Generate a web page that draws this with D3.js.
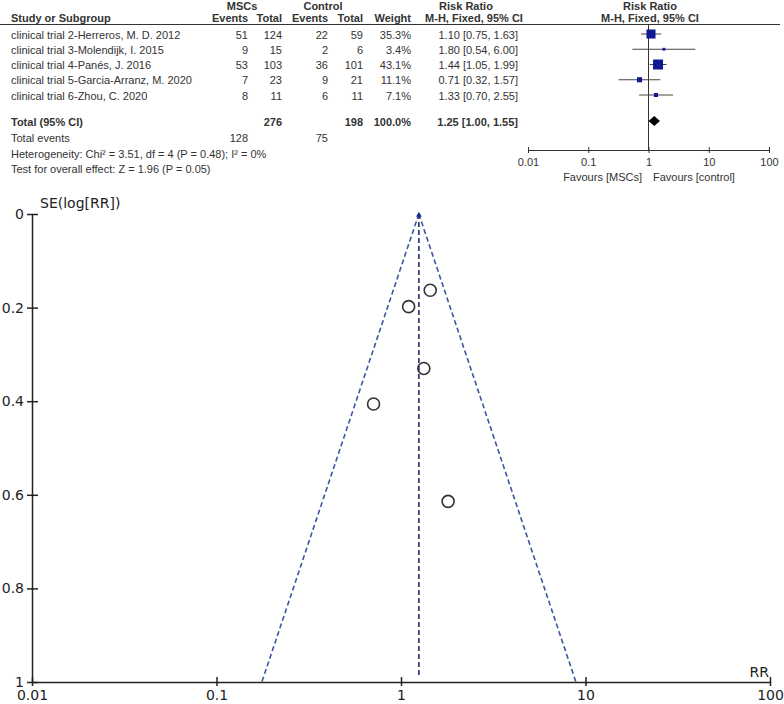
<!DOCTYPE html>
<html lang="en">
<head>
    <meta charset="UTF-8">
    <title>Forest and Funnel Plot</title>
    <script src="https://cdn.jsdelivr.net/npm/d3@7"></script>
    <style>
        body { margin: 0; background: #fff; }
        svg { display: block; }
    </style>
</head>
<body>
    <div id="chart"></div>
    <script>
        // study data
        const studies = [
            "clinical trial 2-Herreros, M. D. 2012",
            "clinical trial 3-Molendijk, I. 2015",
            "clinical trial 4-Panés, J. 2016",
            "clinical trial 5-Garcia-Arranz, M. 2020",
            "clinical trial 6-Zhou, C. 2020"
        ];
        const mscEvents = [51, 9, 53, 7, 8];
        const mscTotal = [124, 15, 103, 23, 11];
        const ctrlEvents = [22, 2, 36, 9, 6];
        const ctrlTotal = [59, 6, 101, 21, 11];
        const weights = [35.3, 3.4, 43.1, 11.1, 7.1];
        const rr = [1.10, 1.80, 1.44, 0.71, 1.33];
        const ciLow = [0.75, 0.54, 1.05, 0.32, 0.70];
        const ciHigh = [1.63, 6.00, 1.99, 1.57, 2.55];
        const seLogRR = [0.198, 0.614, 0.163, 0.406, 0.330];

        const pooled = { rr: 1.25, low: 1.00, high: 1.55, mscTotal: 276, ctrlTotal: 198, mscEvents: 128, ctrlEvents: 75 };
        const heterogeneity = "Heterogeneity: Chi² = 3.51, df = 4 (P = 0.48); I² = 0%";
        const overallTest = "Test for overall effect: Z = 1.96 (P = 0.05)";

        const forestTicks = [0.01, 0.1, 1, 10, 100];
        const forestTickLabels = ["0.01", "0.1", "1", "10", "100"];
        const funnelXTicks = [0.01, 0.1, 1, 10, 100];
        const funnelXLabels = ["0.01", "0.1", "1", "10", "100"];
        const funnelYTicks = [0, 0.2, 0.4, 0.6, 0.8, 1];
        const funnelYLabels = ["0", "0.2", "0.4", "0.6", "0.8", "1"];

        const W = 784, H = 704;
        const svg = d3.select("#chart").append("svg")
            .attr("width", W).attr("height", H)
            .style("font-family", "'Liberation Sans', Arial, sans-serif");

        // ---------- forest plot table ----------
        const tf = svg.append("g").attr("font-size", 11).attr("fill", "#333");
        const rowY = d3.scalePoint().domain(studies).range([34, 95]);

        const bold = (sel) => sel.attr("font-weight", "bold");
        function txt(x, y, s, anchor) {
            return tf.append("text").attr("x", x).attr("y", y)
                .attr("text-anchor", anchor || "start").text(s);
        }

        // headers
        bold(txt(242, 10, "MSCs", "middle"));
        bold(txt(323, 10, "Control", "middle"));
        bold(txt(466, 10, "Risk Ratio", "middle"));
        bold(txt(650, 10, "Risk Ratio", "middle"));
        bold(txt(11, 22, "Study or Subgroup"));
        bold(txt(248, 22, "Events", "end"));
        bold(txt(282, 22, "Total", "end"));
        bold(txt(328, 22, "Events", "end"));
        bold(txt(363, 22, "Total", "end"));
        bold(txt(411, 22, "Weight", "end"));
        bold(txt(474, 22, "M-H, Fixed, 95% CI", "middle"));
        bold(txt(650, 22, "M-H, Fixed, 95% CI", "middle"));

        svg.append("line").attr("x1", 0).attr("x2", 780).attr("y1", 24.5).attr("y2", 24.5)
            .attr("stroke", "#333").attr("stroke-width", 1.2);

        // study rows
        studies.forEach((s, i) => {
            const y = rowY(s) + 4.5;
            txt(11, y, s);
            txt(248, y, mscEvents[i], "end");
            txt(282, y, mscTotal[i], "end");
            txt(328, y, ctrlEvents[i], "end");
            txt(363, y, ctrlTotal[i], "end");
            txt(411, y, weights[i].toFixed(1) + "%", "end");
            txt(518, y, `${rr[i].toFixed(2)} [${ciLow[i].toFixed(2)}, ${ciHigh[i].toFixed(2)}]`, "end");
        });

        const totalY = 121;
        bold(txt(11, totalY + 5, "Total (95% CI)"));
        bold(txt(282, totalY + 5, pooled.mscTotal, "end"));
        bold(txt(363, totalY + 5, pooled.ctrlTotal, "end"));
        bold(txt(411, totalY + 5, "100.0%", "end"));
        bold(txt(518, totalY + 5, `${pooled.rr.toFixed(2)} [${pooled.low.toFixed(2)}, ${pooled.high.toFixed(2)}]`, "end"));
        txt(11, 142, "Total events");
        txt(248, 142, pooled.mscEvents, "end");
        txt(328, 142, pooled.ctrlEvents, "end");
        txt(11, 158, heterogeneity);
        txt(11, 173, overallTest);

        // forest graphic
        const xF = d3.scaleLog().domain([0.01, 100]).range([528, 769]);
        const fAxisY = 150;
        svg.append("line").attr("x1", xF(1)).attr("x2", xF(1)).attr("y1", 25).attr("y2", fAxisY)
            .attr("stroke", "#333").attr("stroke-width", 1);

        const sideScale = d3.scaleSqrt().domain([0, 43.1]).range([0, 10]);
        studies.forEach((s, i) => {
            const y = rowY(s);
            svg.append("line").attr("x1", xF(ciLow[i])).attr("x2", xF(ciHigh[i]))
                .attr("y1", y).attr("y2", y).attr("stroke", "#444").attr("stroke-width", 1);
            const side = Math.max(2.5, sideScale(weights[i]));
            svg.append("rect").attr("x", xF(rr[i]) - side / 2).attr("y", y - side / 2)
                .attr("width", side).attr("height", side).attr("fill", "#0d1a94");
        });

        // pooled diamond
        svg.append("path")
            .attr("d", `M${xF(pooled.low)},${totalY} L${xF(pooled.rr)},${totalY - 5} L${xF(pooled.high)},${totalY} L${xF(pooled.rr)},${totalY + 5} Z`)
            .attr("fill", "#000");

        const fAxis = svg.append("g").attr("transform", `translate(0,${fAxisY})`)
            .call(d3.axisBottom(xF).tickValues(forestTicks)
                .tickFormat((d, i) => forestTickLabels[i]).tickSizeOuter(0).tickPadding(2));
        fAxis.select(".domain").attr("stroke", "#333");
        fAxis.selectAll(".tick line").attr("y1", -3).attr("y2", 3).attr("stroke", "#333");
        fAxis.selectAll(".tick text").attr("font-size", 11).attr("fill", "#333")
            .attr("font-family", "'Liberation Sans', Arial, sans-serif");

        txt(642, 181, "Favours [MSCs]", "end");
        txt(653, 181, "Favours [control]");

        // ---------- funnel plot ----------
        const xR = d3.scaleLog().domain([0.01, 100]).range([32, 770]);
        const ySE = d3.scaleLinear().domain([0, 1]).range([214, 682]);
        const fg = svg.append("g").style("font-family", "'DejaVu Sans', Verdana, sans-serif");

        // funnel limits (pooled RR, 95% pseudo-CI)
        const z = 1.96;
        const limits = [
            [[pooled.rr, 0], [pooled.rr * Math.exp(-z), 1]],
            [[pooled.rr, 0], [pooled.rr * Math.exp(z), 1]]
        ];
        const lineGen = d3.line().x(d => xR(d[0])).y(d => ySE(d[1]));
        limits.forEach(l => {
            fg.append("path").attr("d", lineGen(l)).attr("fill", "none")
                .attr("stroke", "#3b57a0").attr("stroke-width", 1.6).attr("stroke-dasharray", "5,3");
        });
        fg.append("path").attr("d", lineGen([[pooled.rr, 0], [pooled.rr, 0.985]]))
            .attr("fill", "none").attr("stroke", "#1f2f78").attr("stroke-width", 1.6)
            .attr("stroke-dasharray", "5,3");
        fg.append("path").attr("d", d3.symbol(d3.symbolTriangle, 14)())
            .attr("transform", `translate(${xR(pooled.rr)},${ySE(0) + 1})`).attr("fill", "#1a2a8a");

        // axes
        const yAx = fg.append("g").attr("transform", `translate(${xR(0.01)},0)`)
            .call(d3.axisLeft(ySE).tickValues(funnelYTicks)
                .tickFormat((d, i) => funnelYLabels[i]).tickSizeOuter(0).tickPadding(2));
        yAx.selectAll(".tick line").attr("x1", 6).attr("x2", -5);
        const xAx = fg.append("g").attr("transform", `translate(0,${ySE(1)})`)
            .call(d3.axisBottom(xR).tickValues(funnelXTicks)
                .tickFormat((d, i) => funnelXLabels[i]).tickSizeOuter(0).tickPadding(2));
        xAx.selectAll(".tick line").attr("y1", -5).attr("y2", 4);
        [yAx, xAx].forEach(a => {
            a.select(".domain").attr("stroke", "#222").attr("stroke-width", 1.5);
            a.selectAll(".tick line").attr("stroke", "#222").attr("stroke-width", 1.5);
            a.selectAll(".tick text").attr("font-size", 14).attr("fill", "#222")
                .attr("font-family", "'DejaVu Sans', Verdana, sans-serif");
        });

        fg.append("text").attr("x", 40).attr("y", 208).attr("font-size", 14).attr("fill", "#222")
            .text("SE(log[RR])");
        fg.append("text").attr("x", 769).attr("y", 677).attr("font-size", 14).attr("fill", "#222")
            .attr("text-anchor", "end").text("RR");

        // study points
        fg.selectAll("circle.study").data(rr).enter().append("circle")
            .attr("class", "study")
            .attr("cx", d => xR(d))
            .attr("cy", (d, i) => ySE(seLogRR[i]))
            .attr("r", 6)
            .attr("fill", "none").attr("stroke", "#333").attr("stroke-width", 1.6);
    </script>
</body>
</html>
